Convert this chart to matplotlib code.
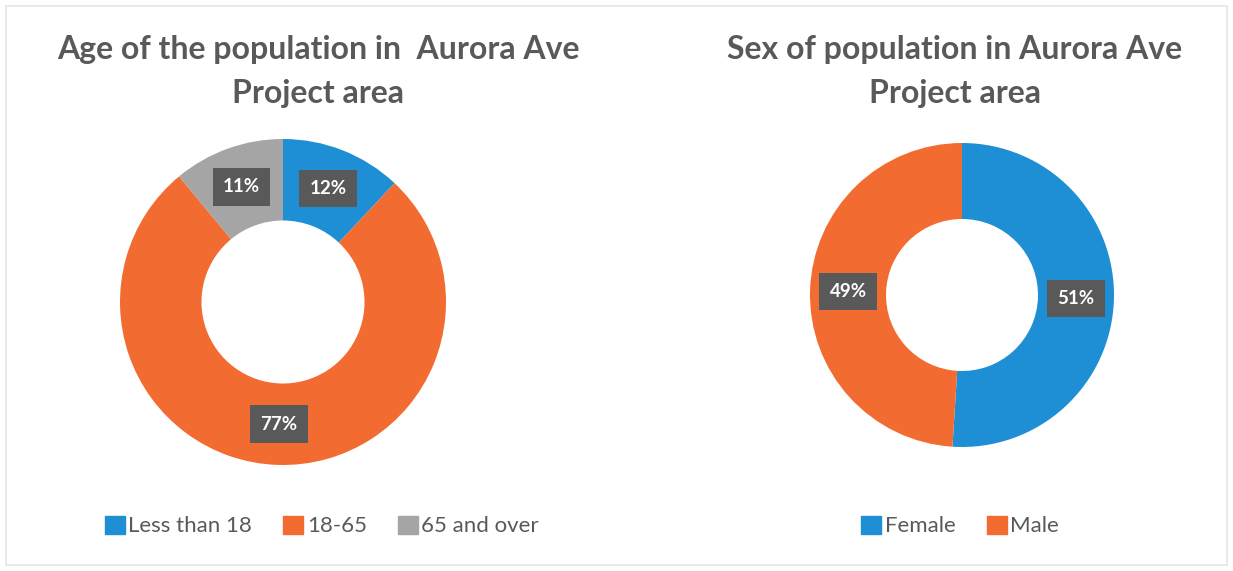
import matplotlib.pyplot as plt
from matplotlib.patches import Patch, Rectangle

# data
age_labels = ['Less than 18', '18-65', '65 and over']
age_values = [12, 77, 11]
sex_labels = ['Female', 'Male']
sex_values = [51, 49]

blue = '#1f8fd5'
orange = '#f26c31'
grey = '#a5a5a5'
text_col = '#595959'

W, H = 1233, 571
fig = plt.figure(figsize=(W / 100, H / 100), dpi=100)
fig.patch.set_facecolor('white')

# faint outer frame like the report screenshot
fig.add_artist(Rectangle((6 / W, 0.01), 1 - 12 / W, 1 - 12 / H, transform=fig.transFigure,
                         fill=False, edgecolor='#e6e6e6', lw=1.2))


def donut(cx, cy, r, values, colors, title, tx):
    ax = fig.add_axes([(cx - r) / W, (H - cy - r) / H, 2 * r / W, 2 * r / H])
    wedges, _, autotexts = ax.pie(values, colors=colors, startangle=90, counterclock=False,
                                  radius=1, autopct='%d%%', pctdistance=0.75,
                                  wedgeprops=dict(width=0.5, edgecolor='none'),
                                  textprops=dict(color='white', fontsize=13.5, fontweight='bold',
                                                 family='Lato'))
    for t in autotexts:
        t.set_bbox(dict(boxstyle='square,pad=0.55', facecolor=text_col, edgecolor='none'))
    ax.set_xlim(-1, 1)
    ax.set_ylim(-1, 1)
    ax.set_aspect('equal')
    fig.text(tx / W, 1 - 50 / H, title[0], ha='center', va='center', fontsize=23,
             fontweight='bold', color=text_col, family='Lato')
    fig.text(tx / W, 1 - 93 / H, title[1], ha='center', va='center', fontsize=23,
             fontweight='bold', color=text_col, family='Lato')
    return wedges


donut(283, 302, 163, age_values, [blue, orange, grey],
      ['Age of the population in  Aurora Ave', 'Project area'], 318)
donut(962, 295, 152, sex_values, [blue, orange],
      ['Sex of population in Aurora Ave', 'Project area'], 955)

leg_kw = dict(loc='center', frameon=False, handlelength=0.9, handleheight=0.9,
              handletextpad=0.15, columnspacing=1.4, labelcolor=text_col,
              prop=dict(family='Lato', size=16))
fig.legend(handles=[Patch(color=c, label=l) for c, l in zip([blue, orange, grey], age_labels)],
           ncol=3, bbox_to_anchor=(322 / W, 1 - 526 / H), **leg_kw)
fig.legend(handles=[Patch(color=c, label=l) for c, l in zip([blue, orange], sex_labels)],
           ncol=2, bbox_to_anchor=(960 / W, 1 - 526 / H), **leg_kw)

fig.savefig('out.png', dpi=100)
